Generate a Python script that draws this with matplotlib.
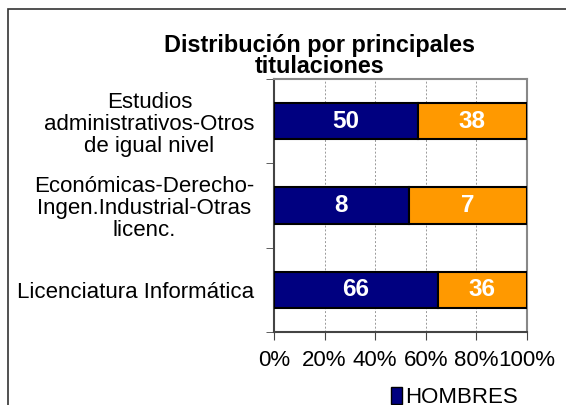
import matplotlib
matplotlib.use("Agg")
import matplotlib.pyplot as plt
from matplotlib.patches import Rectangle, Patch
import numpy as np

plt.rcParams["font.family"] = ["Liberation Sans", "DejaVu Sans"]

CATEGORIES = [
    "Estudios\nadministrativos-Otros\nde igual nivel",
    "Económicas-Derecho-\nIngen.Industrial-Otras\nlicenc.",
    "Licenciatura Informática",
]
HOMBRES = [50, 8, 66]
MUJERES = [38, 7, 36]
SERIES = ["HOMBRES", "MUJERES"]
COLORS = ["#000080", "#FF9900"]
XTICKS = [0, 20, 40, 60, 80, 100]

fig = plt.figure(figsize=(5.66, 4.05), dpi=100)
fig.patches.append(Rectangle((8 / 566, -0.5), 2.0, 1.5 - 9 / 405,
                             transform=fig.transFigure, fill=False,
                             edgecolor="#333333", linewidth=1.2))

ax = fig.add_axes([274 / 566, 1 - 332 / 405, 253 / 566, 253 / 405])

h = np.array(HOMBRES, dtype=float)
m = np.array(MUJERES, dtype=float)
tot = h + m
hp = h / tot * 100
mp = m / tot * 100
y = np.arange(len(CATEGORIES))

ax.barh(y, hp, height=0.43, color=COLORS[0], edgecolor="black", linewidth=1.5, zorder=3)
ax.barh(y, mp, left=hp, height=0.43, color=COLORS[1], edgecolor="black", linewidth=1.5, zorder=3)
for i in range(len(y)):
    ax.text(hp[i] / 2, y[i], f"{HOMBRES[i]}", ha="center", va="center",
            color="white", fontsize=17.5, fontweight="bold", zorder=4)
    ax.text(hp[i] + mp[i] / 2, y[i], f"{MUJERES[i]}", ha="center", va="center",
            color="white", fontsize=17.5, fontweight="bold", zorder=4)

ax.set_xlim(0, 100)
ax.set_ylim(len(y) - 0.5, -0.5)
ax.set_xticks(XTICKS, [f"{t}%" for t in XTICKS], fontsize=16)
ax.set_yticks(y, CATEGORIES, fontsize=16)
ax.set_yticks(np.arange(len(y) + 1) - 0.5, minor=True)
ax.tick_params(axis="y", which="major", length=0, pad=14)
ax.tick_params(axis="y", which="minor", length=6, color="#444444")
ax.tick_params(axis="x", length=6, color="#444444", pad=7)
for lbl in ax.get_yticklabels():
    lbl.set_multialignment("center")
    lbl.set_linespacing(1.08)
ax.xaxis.grid(True, linestyle=(0, (2, 2)), color="#999999", linewidth=0.7, zorder=0)
ax.spines["left"].set_color("#444444")
ax.spines["bottom"].set_color("#444444")
ax.spines["top"].set_color("#888888")
ax.spines["right"].set_color("#888888")
for s in ax.spines.values():
    s.set_linewidth(1.5)

fig.text(320 / 566, 1 - 56 / 405, "Distribución por principales\ntitulaciones",
         ha="center", va="center", fontsize=16.8, fontweight="bold", linespacing=0.9)

handles = [Patch(facecolor=c, edgecolor="black", label=s) for c, s in zip(COLORS, SERIES)]
fig.legend(handles=handles, loc="upper left", bbox_to_anchor=(380 / 566, 1 - 376 / 405),
           frameon=False, fontsize=16, handlelength=0.5, handleheight=0.75,
           handletextpad=0.12, borderpad=0, labelspacing=1.2)

fig.savefig("out.png", dpi=100)
